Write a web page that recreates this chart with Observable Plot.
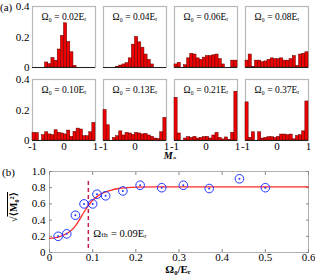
<!DOCTYPE html>
<html><head><meta charset="utf-8">
<script src="https://cdn.jsdelivr.net/npm/d3@7"></script>
<script src="https://cdn.jsdelivr.net/npm/@observablehq/plot@0.6"></script>
<style>
body{margin:0;background:#fff;}
#chart svg{display:block;}
</style></head><body><div id="chart"></div>
<script>
// ---------- (a) histograms ----------
const omegas = [0.02, 0.04, 0.06, 0.08, 0.10, 0.13, 0.21, 0.37];
const binStarts = [-1,-0.9,-0.8,-0.7,-0.6,-0.5,-0.4,-0.3,-0.2,-0.1,0,0.1,0.2,0.3,0.4,0.5,0.6,0.7,0.8,0.9];
const binWidth = 0.1;
const h002 = [0,0,0,0,0.033,0.022,0.062,0.044,0.118,0.207,0.29,0.167,0.10,0.011,0,0,0,0,0,0];
const h004 = [0,0,0,0,0.005,0.013,0.02,0.028,0.06,0.15,0.2,0.165,0.13,0.085,0.05,0.02,0,0,0,0];
const h006 = [0.02,0.03,0,0.015,0.06,0.09,0.085,0.06,0.05,0.065,0.075,0.075,0.08,0.085,0.055,0.02,0,0,0.045,0.045];
const h008 = [0.045,0.085,0.005,0.045,0.045,0.035,0.04,0.05,0.06,0.055,0.055,0.06,0.045,0.045,0.055,0.075,0.01,0.085,0.09,0.10];
const h010 = [0.05,0.048,0,0.035,0.054,0.04,0.035,0.067,0.05,0.046,0.04,0.065,0.024,0.057,0.078,0.072,0.028,0.028,0.054,0.115];
const h013 = [0.2,0.1,0,0.017,0.028,0.06,0.033,0.05,0.046,0.037,0.05,0.046,0.04,0.043,0.033,0.024,0.013,0.01,0.054,0.148];
const h021 = [0.28,0.046,0,0.013,0.022,0.017,0.024,0.013,0.017,0.022,0.024,0.013,0.033,0.05,0.017,0.007,0.02,0.005,0.05,0.32];
const h037 = [0.25,0.017,0.054,0,0.054,0.013,0.017,0.022,0.022,0.017,0.024,0.039,0.039,0.035,0.039,0.008,0.03,0.035,0.06,0.256];
const hists = [h002,h004,h006,h008,h010,h013,h021,h037];
const histTicksX = [-1, 0, 1];
const histTicksY = [0, 0.2, 0.4];

// ---------- (b) order parameter ----------
const pointX = [0.02,0.04,0.06,0.08,0.10,0.11,0.13,0.17,0.21,0.26,0.31,0.37,0.44,0.50];
const pointY = [0.20,0.23,0.46,0.60,0.60,0.72,0.70,0.76,0.83,0.80,0.83,0.79,0.91,0.80];
const fitX = [0,0.02,0.04,0.05,0.06,0.07,0.08,0.09,0.10,0.11,0.12,0.14,0.16,0.18,0.20,0.25,0.30,0.60];
const fitY = [0.175,0.19,0.235,0.27,0.33,0.41,0.50,0.58,0.645,0.69,0.725,0.765,0.79,0.80,0.806,0.81,0.81,0.81];
const omegaTh = 0.09;
const bTicksX = [0,0.1,0.2,0.3,0.4,0.5,0.6];
const bTicksY = [0,0.2,0.4,0.6,0.8,1.0];

const serif = "'Liberation Serif', 'DejaVu Serif', serif";
const chart = document.getElementById("chart");

const rows = [];
hists.forEach((h, p) => h.forEach((v, i) => rows.push({
  col: p % 4, row: Math.floor(p / 4), x1: binStarts[i], x2: binStarts[i] + binWidth, v
})));
const panels = omegas.map((o, p) => ({col: p % 4, row: Math.floor(p / 4), label: `Ω₀ = ${o.toFixed(2)}Eᵣ`}));

const plotA = Plot.plot({
  width: 315, height: 159,
  marginLeft: 31, marginRight: 5, marginTop: 5, marginBottom: 19,
  style: {fontFamily: serif, fontSize: "11px", color: "#000", background: "#fff"},
  x: {domain: [-1, 1]},
  y: {domain: [0, 0.4]},
  fx: {domain: [0,1,2,3], paddingInner: 0.11, paddingOuter: 0, axis: null},
  fy: {domain: [0,1], paddingInner: 0.17, paddingOuter: 0, axis: null},
  marks: [
    Plot.frame({stroke: "#b8b8b8", strokeWidth: 1.2}),
    Plot.rectY(rows, {x1: "x1", x2: "x2", y: "v", fx: "col", fy: "row", fill: "#ee0000", stroke: "#5a0000", strokeWidth: 0.5}),
    Plot.ruleY([0], {stroke: "#222", strokeWidth: 1}),
    Plot.axisX({ticks: histTicksX, tickSize: 0, tickPadding: 2, label: null, tickFormat: d => d === 0 ? "0" : (d < 0 ? "-1" : "1")}),
    Plot.axisY({ticks: histTicksY, tickSize: 0, tickPadding: 3, label: null, tickFormat: d => d === 0 ? "0" : d.toFixed(1)}),
    Plot.text(panels, {fx: "col", fy: "row", text: "label", frameAnchor: "top", dy: 7, fontSize: 9.5})
  ]
});
chart.appendChild(plotA);
const sa = d3.select(plotA);
sa.append("text").attr("x", 0).attr("y", 11).attr("text-anchor", "start").attr("font-family", serif).attr("font-size", 11).text("(a)");
sa.append("text").attr("x", 170).attr("y", 158.5).attr("text-anchor", "middle").attr("font-family", serif)
  .attr("font-size", 10).attr("font-weight", "bold").attr("font-style", "italic").text("M₀");

const pts = pointX.map((x, i) => ({x, y: pointY[i]}));
const fit = fitX.map((x, i) => ({x, y: fitY[i]}));
const fmt1 = d => d === 0 ? "0" : d.toFixed(1);

const plotB = Plot.plot({
  width: 315, height: 117,
  marginLeft: 49, marginRight: 7, marginTop: 12, marginBottom: 24,
  style: {fontFamily: serif, fontSize: "11px", color: "#000", background: "#fff"},
  x: {domain: [0, 0.6]},
  y: {domain: [0, 1]},
  marks: [
    Plot.frame({stroke: "#b0b0b0", strokeWidth: 1}),
    Plot.axisX({ticks: bTicksX, tickSize: -3, tickPadding: 4, label: null, tickFormat: fmt1, stroke: "#888"}),
    Plot.axisX({anchor: "top", ticks: bTicksX, tickSize: -3, tickFormat: () => "", label: null, stroke: "#888"}),
    Plot.axisY({ticks: bTicksY, tickSize: -3, tickPadding: 7, label: null, tickFormat: fmt1, stroke: "#888"}),
    Plot.axisY({anchor: "right", ticks: bTicksY, tickSize: -3, tickFormat: () => "", label: null, stroke: "#888"}),
    Plot.line(fit, {x: "x", y: "y", stroke: "#ff2a2a", strokeWidth: 1.3, curve: "monotone-x"}),
    Plot.ruleX([omegaTh], {y1: 0.05, y2: 0.9, stroke: "#c41e4a", strokeWidth: 1.5, strokeDasharray: "4,3"}),
    Plot.dot(pts, {x: "x", y: "y", r: 4.3, stroke: "#2236ff", strokeWidth: 1, fill: "none"}),
    Plot.dot(pts, {x: "x", y: "y", r: 1, fill: "#2236ff"}),
    Plot.text([{x: omegaTh, y: 0.23, t: `Ωₜₕ = ${omegaTh.toFixed(2)}Eᵣ`}], {x: "x", y: "y", text: "t", textAnchor: "start", dx: 5, fontSize: 10.5})
  ]
});
chart.appendChild(plotB);
const sb = d3.select(plotB);
sb.append("text").attr("x", 2).attr("y", 17).attr("text-anchor", "start").attr("font-family", serif).attr("font-size", 11).text("(b)");
sb.append("text").attr("x", 178).attr("y", 114).attr("text-anchor", "middle").attr("font-family", serif)
  .attr("font-size", 11).attr("font-weight", "bold").text("Ω₀/Eᵣ");
const yl = sb.append("text").attr("transform", "translate(17,48) rotate(-90)").attr("text-anchor", "middle")
  .attr("font-family", serif).attr("font-size", 10).attr("font-weight", "bold");
yl.append("tspan").text("√");
yl.append("tspan").attr("text-decoration", "overline").text("⟨M₀²⟩");
</script></body></html>
